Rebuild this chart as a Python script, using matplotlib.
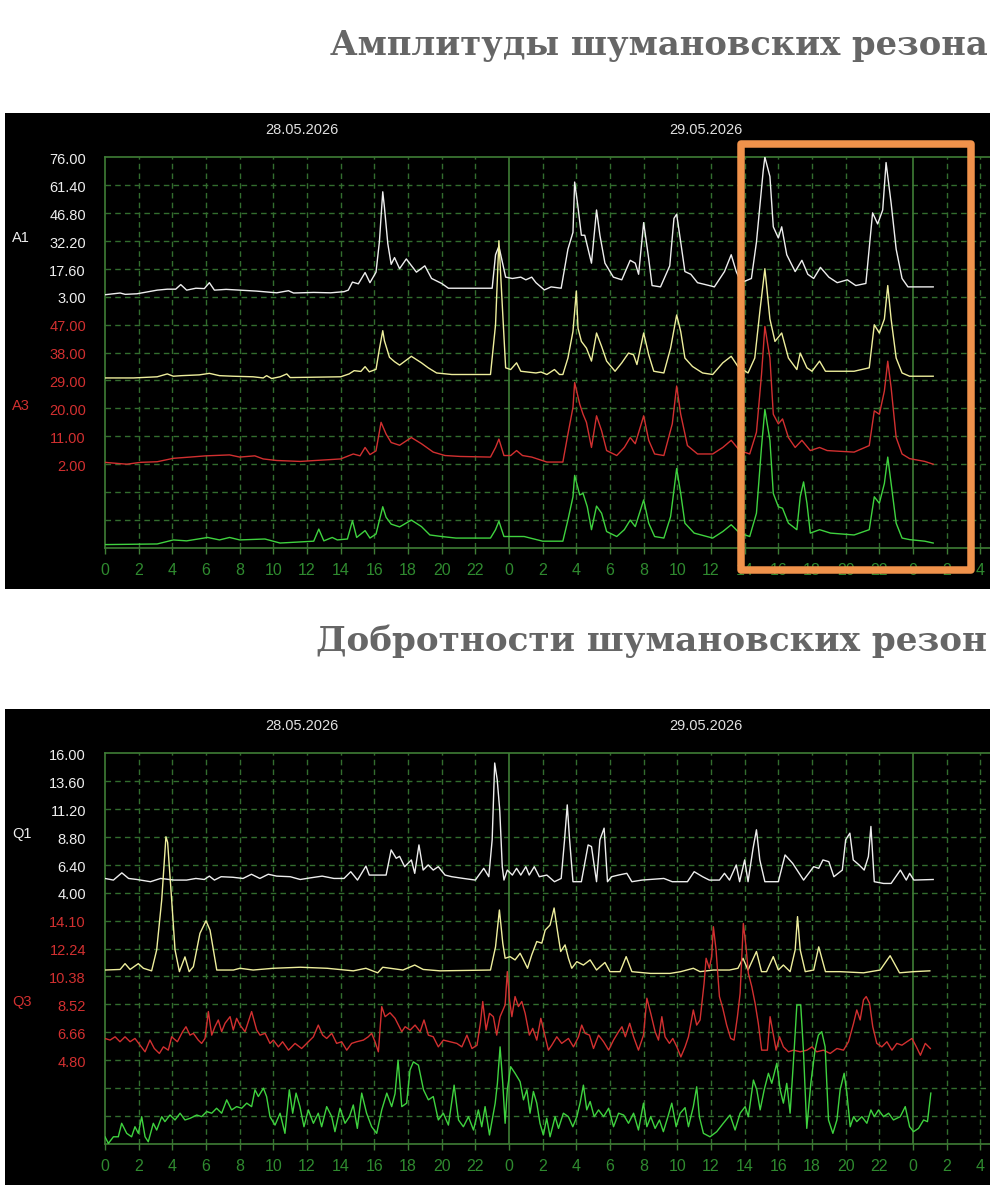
import matplotlib
matplotlib.use('Agg')
import matplotlib.pyplot as plt
from matplotlib.patches import Rectangle

# ---------------- data (hours since 00:00 28.05.2026, values) ----------------
# Amplitudes panel
A1_t = [0, 0.9, 1.2, 1.9, 3.1, 3.7, 4.2, 4.5, 4.85, 5.4, 5.9, 6.2, 6.5, 7.2, 8.0, 9.0, 10.2, 10.9, 11.2, 12.4,
        13.4, 14.2, 14.45, 14.7, 15.05, 15.45, 15.74, 16.1, 16.3, 16.5, 16.6, 16.8, 17.0, 17.2, 17.5, 17.9, 18.5,
        19.0, 19.4, 20.0, 20.4, 23.0, 23.2, 23.4, 23.8, 24.2, 24.7, 25.0, 25.35, 25.6, 26.1, 26.5, 27.1, 27.5,
        27.8, 27.9, 28.1, 28.3, 28.5, 28.9, 29.2, 29.4, 29.7, 30.2, 30.7, 31.2, 31.5, 31.7, 32.0, 32.3, 32.5,
        33.0, 33.55, 33.8, 33.96, 34.2, 34.45, 34.8, 35.2, 35.9, 36.2, 36.8, 37.2, 37.5, 37.8, 38.4, 38.7, 39.1,
        39.2, 39.5, 39.7, 40.0, 40.2, 40.5, 41.0, 41.4, 41.75, 42.1, 42.5, 43.0, 43.5, 44.1, 44.6, 45.2, 45.6,
        45.9, 46.2, 46.4, 46.7, 47.0, 47.35, 47.7, 49.2]
A1_v = [4.0, 4.9, 4.2, 4.5, 6.4, 6.9, 6.9, 9.3, 6.4, 7.4, 7.2, 10.3, 6.4, 6.8, 6.4, 5.9, 5.0, 6.1, 4.9, 5.2,
        5.0, 5.6, 6.4, 10.6, 9.7, 15.6, 10.3, 15.8, 31.6, 57.8, 49.7, 30.7, 19.9, 23.4, 17.6, 22.7, 15.8,
        19.1, 12.5, 9.9, 7.4, 7.4, 24.9, 29.3, 13.2, 12.5, 13.2, 11.8, 13.2, 10.3, 6.5, 8.1, 7.4, 27.8,
        36.6, 62.9, 49.7, 35.1, 35.1, 20.5, 48.3, 35.1, 20.5, 13.2, 11.8, 22.0, 20.5, 14.7, 41.7, 22.7, 8.8,
        8.1, 19.1, 43.9, 46.1, 31.5, 16.1, 14.7, 10.3, 8.8, 8.1, 16.1, 24.9, 16.1, 10.3, 12.5, 31.5, 68.7,
        76.0, 65.8, 39.5, 33.7, 39.5, 24.9, 16.1, 22.0, 14.7, 12.5, 18.3, 13.2, 10.3, 11.8, 8.8, 9.9, 46.8,
        41.0, 48.3, 73.1, 51.9, 27.8, 12.5, 8.1, 8.1]

A2_t = [0, 1.7, 3.1, 3.7, 4.06, 4.55, 5.6, 6.2, 6.8, 7.6, 8.8, 9.4, 9.6, 9.9, 10.4, 10.8, 11.0, 14.0, 14.5,
        14.8, 15.2, 15.45, 15.7, 16.1, 16.3, 16.5, 16.6, 16.9, 17.2, 17.5, 18.2, 18.8, 19.2, 19.7, 20.6, 22.9,
        23.2, 23.4, 23.6, 23.8, 24.1, 24.45, 24.7, 25.6, 25.9, 26.25, 26.7, 27.0, 27.2, 27.5, 27.8, 28.0, 28.1,
        28.3, 28.6, 28.9, 29.2, 29.5, 29.8, 30.3, 30.7, 31.1, 31.4, 31.6, 32.0, 32.3, 32.6, 33.2, 33.6, 33.96,
        34.2, 34.45, 34.9, 35.5, 36.1, 36.7, 37.2, 37.6, 38.2, 38.6, 38.9, 39.2, 39.5, 39.8, 40.2, 40.6, 41.1,
        41.3, 41.7, 42.0, 42.45, 42.8, 44.5, 45.4, 45.7, 46.0, 46.3, 46.5, 46.7, 47.0, 47.35, 47.8, 49.2]
A2_v = [4.3, 4.3, 4.9, 6.4, 5.2, 5.5, 5.9, 6.7, 5.5, 5.2, 4.9, 4.3, 5.5, 4.0, 4.9, 6.4, 4.5, 4.9, 6.4,
        8.1, 7.7, 10.2, 7.5, 8.8, 19.4, 29.0, 23.7, 15.1, 12.8, 11.0, 15.6, 12.2, 9.6, 6.9, 6.1, 6.1,
        32.1, 76.0, 42.4, 9.6, 8.7, 12.2, 7.8, 6.9, 7.4, 6.1, 8.7, 6.1, 6.1, 14.7, 28.6, 49.7, 30.3,
        23.4, 19.9, 13.1, 27.8, 20.8, 13.1, 7.8, 12.2, 17.3, 16.4, 11.3, 27.8, 16.4, 7.8, 6.9, 19.9, 37.2,
        28.6, 14.7, 10.3, 6.9, 6.1, 12.2, 15.6, 10.3, 6.9, 14.7, 38.9, 61.4, 35.1, 23.4, 27.8, 14.7, 8.7,
        17.3, 9.6, 7.8, 13.1, 7.8, 7.8, 9.6, 32.1, 27.8, 35.1, 52.6, 35.1, 14.7, 6.9, 5.2, 5.2]

A3_t = [0, 1.3, 2.1, 3.1, 4.06, 5.05, 6.0, 7.4, 8.0, 8.9, 9.4, 10.2, 11.6, 14.0, 14.75, 15.15, 15.45, 15.74,
        16.1, 16.4, 16.7, 17.0, 17.5, 18.2, 18.8, 19.5, 20.2, 21.1, 22.9, 23.2, 23.4, 23.7, 24.1, 24.45, 24.8,
        25.35, 26.25, 27.2, 27.5, 27.8, 27.9, 28.2, 28.4, 28.6, 28.9, 29.2, 29.5, 29.8, 30.4, 30.85, 31.2,
        31.5, 32.0, 32.3, 32.65, 33.2, 33.7, 33.96, 34.2, 34.6, 35.2, 36.1, 36.7, 37.2, 37.7, 38.3, 38.7,
        39.0, 39.2, 39.5, 39.7, 40.0, 40.25, 40.6, 41.0, 41.4, 41.9, 42.45, 42.9, 44.5, 45.4, 45.7, 46.0,
        46.3, 46.5, 46.7, 47.0, 47.35, 47.8, 48.7, 49.2]
A3_v = [2.6, 2.0, 2.6, 2.8, 3.9, 4.3, 4.7, 5.0, 4.3, 4.7, 3.7, 3.2, 2.9, 3.7, 5.3, 4.7, 7.4, 5.1,
        6.3, 15.5, 11.7, 9.0, 8.1, 10.6, 8.6, 5.9, 4.8, 4.5, 4.3, 7.4, 10.1, 4.8, 4.8, 6.4, 4.8,
        4.3, 2.7, 2.7, 11.7, 20.3, 28.3, 21.4, 18.1, 15.5, 7.4, 17.6, 12.8, 6.4, 4.8, 7.4, 10.6,
        8.6, 17.6, 9.7, 5.3, 4.8, 15.0, 27.2, 18.1, 8.0, 5.3, 5.3, 7.4, 9.7, 6.4, 5.3, 12.3,
        30.9, 46.4, 36.2, 18.1, 15.0, 16.6, 10.6, 7.4, 9.7, 6.4, 7.4, 6.4, 5.9, 8.0, 19.2, 18.1,
        25.6, 35.2, 26.7, 10.6, 5.3, 3.8, 2.9, 2.0]

A4_t = [0, 3.1, 4.06, 4.85, 6.1, 6.8, 7.4, 8.0, 9.5, 10.4, 12.4, 12.7, 13.0, 13.5, 13.8, 14.4, 14.7, 14.95,
        15.45, 15.74, 16.1, 16.5, 16.7, 17.0, 17.5, 18.2, 18.8, 19.3, 20.0, 20.85, 22.9, 23.2, 23.4, 23.7,
        24.9, 26.0, 27.2, 27.5, 27.8, 27.9, 28.2, 28.4, 28.65, 28.9, 29.2, 29.5, 29.8, 30.4, 30.85, 31.2,
        31.5, 32.0, 32.3, 32.65, 33.2, 33.6, 33.96, 34.2, 34.45, 35.0, 36.1, 36.7, 37.2, 37.7, 38.3, 38.7,
        39.0, 39.2, 39.5, 39.7, 40.0, 40.25, 40.6, 41.1, 41.3, 41.5, 41.7, 41.9, 42.45, 43.1, 44.5, 45.4,
        45.7, 46.0, 46.3, 46.5, 46.7, 47.0, 47.35, 47.8, 48.7, 49.2]
A4_v = [3.1, 3.3, 4.6, 4.3, 5.4, 4.6, 5.4, 4.6, 4.9, 3.6, 4.2, 8.1, 4.3, 5.4, 4.6, 4.9, 10.8, 5.4,
        7.6, 5.2, 6.5, 15.3, 11.9, 9.7, 8.8, 11.0, 8.9, 6.2, 5.7, 5.2, 5.2, 7.9, 10.6, 5.7,
        5.7, 4.2, 4.2, 11.0, 18.5, 25.4, 19.1, 19.6, 15.3, 7.9, 15.5, 13.2, 7.3, 5.7, 7.9, 11.0,
        8.9, 17.5, 10.0, 5.7, 5.2, 12.1, 27.6, 19.6, 10.0, 6.8, 5.2, 7.3, 9.5, 6.8, 5.7, 13.2,
        34.5, 46.7, 36.7, 19.6, 15.3, 14.8, 10.0, 7.9, 18.5, 23.3, 16.4, 6.8, 7.9, 6.8, 6.2, 7.9,
        18.5, 16.4, 22.8, 31.3, 22.8, 10.0, 5.2, 4.7, 4.2, 3.6]

# Q-factor panel
Q1_t = [0, 0.5, 1.0, 1.4, 1.9, 2.7, 3.3, 4.1, 4.85, 5.4, 5.9, 6.2, 6.5, 6.9, 7.6, 8.2, 8.7, 9.2, 9.7, 10.2,
        11.0, 11.6, 12.2, 12.9, 13.6, 14.2, 14.6, 15.0, 15.5, 15.7, 16.7, 17.0, 17.3, 17.5, 17.8, 18.2, 18.4,
        18.65, 18.9, 19.2, 19.5, 19.8, 20.2, 20.6, 21.3, 22.0, 22.5, 22.8, 23.0, 23.15, 23.3, 23.45, 23.6,
        23.7, 23.9, 24.2, 24.45, 24.7, 25.0, 25.2, 25.5, 25.8, 26.25, 26.7, 27.1, 27.3, 27.46, 27.6, 27.8,
        28.3, 28.5, 28.7, 28.9, 29.2, 29.4, 29.65, 29.85, 30.1, 30.5, 31.0, 31.3, 31.9, 33.2, 33.7, 34.6,
        35.0, 35.5, 35.9, 36.5, 36.8, 37.1, 37.5, 37.7, 38.0, 38.2, 38.5, 38.7, 38.9, 39.2, 40.0, 40.4,
        40.85, 41.5, 42.1, 42.4, 42.65, 43.0, 43.3, 43.8, 44.0, 44.25, 44.45, 44.8, 45.1, 45.35, 45.5,
        45.7, 46.25, 46.7, 47.25, 47.6, 47.8, 48.05, 49.2]
Q1_v = [5.22, 5.08, 5.70, 5.22, 5.13, 4.94, 5.22, 5.08, 5.08, 5.22, 5.13, 5.42, 5.08, 5.37, 5.32, 5.22, 5.58,
        5.22, 5.58, 5.42, 5.37, 5.13, 5.27, 5.42, 5.22, 5.22, 5.80, 5.08, 6.28, 5.51, 5.51, 7.67, 6.95, 7.12,
        6.23, 6.81, 5.66, 8.10, 5.94, 6.38, 5.94, 6.23, 5.51, 5.37, 5.22, 5.08, 6.09, 5.37, 8.54, 15.14,
        13.70, 11.10, 6.23, 5.08, 5.94, 5.51, 6.09, 5.51, 6.23, 5.51, 6.23, 5.37, 5.51, 4.94, 5.22, 8.54,
        11.54, 8.54, 4.94, 4.94, 6.52, 8.10, 7.96, 4.94, 8.54, 9.54, 4.94, 5.37, 5.51, 5.66, 4.94, 5.08,
        5.22, 4.94, 4.94, 5.80, 5.37, 5.08, 5.08, 5.66, 5.08, 6.38, 4.94, 6.81, 4.94, 7.82, 9.40, 6.81,
        4.94, 4.94, 7.24, 6.52, 5.08, 6.23, 6.09, 6.81, 6.66, 5.37, 5.94, 8.54, 9.11, 6.81, 6.38, 5.94,
        7.10, 9.69, 4.94, 4.79, 4.79, 5.94, 5.08, 5.66, 5.08, 5.13]

Q2_t = [0, 0.9, 1.19, 1.49, 1.98, 2.28, 2.77, 3.07, 3.37, 3.62, 3.72, 3.96, 4.16, 4.42, 4.75, 5.0, 5.25, 5.64,
        6.0, 6.24, 6.64, 7.63, 8.02, 8.8, 10.0, 11.6, 13.2, 14.75, 15.5, 16.2, 16.5, 17.7, 18.4, 18.9, 19.9,
        22.9, 23.2, 23.43, 23.63, 23.77, 24.06, 24.36, 24.66, 24.86, 25.1, 25.35, 25.65, 25.95, 26.15, 26.44,
        26.68, 26.84, 27.07, 27.33, 27.53, 27.73, 28.03, 28.42, 28.82, 29.2, 29.7, 30.0, 30.6, 30.96, 31.3,
        32.4, 33.57, 34.2, 34.95, 35.35, 36.14, 37.1, 37.6, 37.9, 38.2, 38.7, 39.0, 39.3, 39.7, 40.0, 40.3,
        40.7, 41.0, 41.14, 41.3, 41.6, 42.1, 42.4, 42.8, 43.67, 45.06, 46.05, 46.64, 47.2, 48.03, 49.0]
Q2_v = [4.55, 4.60, 5.10, 4.60, 5.10, 4.70, 4.48, 6.28, 10.58, 16.0, 15.52, 10.58, 6.28, 4.41, 5.68, 4.41,
        4.84, 7.70, 8.78, 7.98, 4.55, 4.55, 4.70, 4.55, 4.70, 4.79, 4.70, 4.48, 4.70, 4.31, 4.79, 4.55, 4.98,
        4.60, 4.48, 4.55, 6.54, 9.71, 6.86, 5.56, 5.70, 5.42, 5.99, 5.42, 4.70, 5.85, 7.00, 6.86, 7.98, 8.42,
        9.88, 8.27, 6.14, 6.71, 5.56, 4.70, 5.27, 4.98, 5.42, 4.55, 5.20, 4.41, 4.41, 5.70, 4.41, 4.26, 4.26,
        4.41, 4.70, 4.41, 4.55, 4.55, 4.70, 5.56, 4.55, 6.14, 4.41, 4.41, 5.70, 4.55, 4.98, 4.41, 6.28, 9.14,
        6.28, 4.41, 4.55, 6.54, 4.41, 4.41, 4.31, 4.55, 5.78, 4.31, 4.41, 4.48]

Q3_t = [0, 0.3, 0.6, 0.89, 1.19, 1.49, 1.78, 2.08, 2.38, 2.67, 2.93, 3.23, 3.47, 3.76, 3.96, 4.3, 4.61, 4.81,
        5.05, 5.25, 5.54, 5.74, 5.94, 6.14, 6.34, 6.53, 6.73, 6.93, 7.13, 7.43, 7.62, 7.82, 8.02, 8.32, 8.71,
        9.01, 9.21, 9.51, 9.8, 10.0, 10.3, 10.55, 10.9, 11.29, 11.68, 12.08, 12.38, 12.67, 12.93, 13.17,
        13.47, 13.76, 14.06, 14.36, 14.65, 14.95, 15.35, 15.64, 15.84, 16.04, 16.24, 16.44, 16.64, 16.93,
        17.23, 17.63, 17.83, 18.13, 18.42, 18.72, 18.95, 19.21, 19.5, 19.8, 20.1, 20.5, 20.9, 21.2, 21.5,
        21.8, 22.1, 22.3, 22.44, 22.64, 22.84, 23.07, 23.27, 23.47, 23.77, 23.9, 24.03, 24.17, 24.36, 24.56,
        24.76, 24.96, 25.21, 25.41, 25.65, 25.89, 26.08, 26.34, 26.54, 26.84, 27.13, 27.53, 27.83, 28.13,
        28.32, 28.52, 28.78, 29.02, 29.32, 29.62, 29.92, 30.21, 30.51, 30.71, 30.91, 31.17, 31.4, 31.69,
        31.99, 32.19, 32.42, 32.68, 32.88, 33.08, 33.27, 33.53, 33.73, 33.97, 34.21, 34.46, 34.66, 34.95,
        35.15, 35.35, 35.59, 35.71, 35.9, 36.04, 36.14, 36.3, 36.5, 36.7, 36.93, 37.17, 37.37, 37.57, 37.73,
        37.92, 38.08, 38.22, 38.42, 38.62, 38.81, 39.01, 39.35, 39.51, 39.67, 39.87, 40.07, 40.3, 40.6, 40.9,
        41.3, 41.7, 42.0, 42.28, 42.68, 43.08, 43.48, 43.87, 44.17, 44.47, 44.66, 44.86, 45.06, 45.22, 45.42,
        45.61, 45.85, 46.15, 46.45, 46.75, 47.04, 47.34, 47.64, 47.94, 48.2, 48.44, 48.73, 49.03]
Q3_v = [6.25, 6.14, 6.36, 6.03, 6.36, 6.03, 6.25, 5.80, 5.36, 6.14, 5.58, 5.25, 5.69, 5.47, 6.36, 6.03, 6.70, 7.03,
        6.47, 6.59, 6.14, 5.92, 6.25, 8.04, 6.47, 7.03, 7.48, 6.70, 7.26, 7.70, 6.81, 7.59, 7.14, 6.70, 8.04,
        6.81, 6.47, 6.59, 5.92, 6.14, 5.69, 6.03, 5.47, 5.92, 5.58, 6.03, 6.36, 7.14, 6.47, 6.25,
        6.59, 5.92, 6.03, 5.47, 5.92, 6.03, 6.14, 6.36, 6.59, 6.03, 5.36, 8.37, 7.70, 7.96,
        7.59, 6.70, 7.03, 6.81, 7.14, 6.70, 7.48, 6.47, 6.36, 5.69, 6.14, 6.03, 5.92, 5.69, 6.47,
        5.58, 5.80, 7.26, 8.71, 6.81, 7.92, 7.70, 6.47, 7.70, 8.48, 10.70, 8.82, 7.70, 9.04, 8.37,
        8.71, 7.92, 6.47, 6.92, 6.14, 7.59, 6.70, 5.47, 5.80, 6.36, 5.92, 6.25, 5.69, 6.36,
        7.14, 6.59, 6.47, 5.58, 6.47, 6.03, 5.47, 6.14, 6.70, 7.03, 6.36, 7.26, 6.36, 5.47,
        6.47, 8.93, 7.92, 6.70, 6.14, 7.70, 6.36, 5.92, 6.25, 5.69, 5.02, 5.69, 6.36, 8.15,
        7.14, 7.48, 9.93, 11.59, 10.92, 11.70, 13.69, 12.15, 9.04, 8.26, 7.14, 6.25, 6.14, 7.70, 9.26,
        13.91, 12.35, 10.58, 9.71, 8.59, 7.26, 5.47, 5.47, 7.70, 6.70, 5.47, 6.36, 5.69, 5.36, 5.47,
        5.36, 5.47, 5.69, 5.36, 5.47, 5.25, 5.58, 5.47, 6.03, 7.26, 8.15, 7.48, 8.82, 9.04, 8.59,
        7.03, 5.92, 5.69, 6.03, 5.47, 5.92, 5.80, 6.03, 6.25, 5.69, 5.13, 5.92, 5.58]

Q4_t = [0, 0.2, 0.5, 0.79, 0.99, 1.29, 1.58, 1.78, 1.98, 2.18, 2.38, 2.57, 2.87, 3.07, 3.37, 3.56, 3.86, 4.16,
        4.46, 4.75, 5.05, 5.45, 5.74, 6.04, 6.34, 6.63, 6.93, 7.23, 7.52, 7.82, 8.12, 8.42, 8.71, 8.91, 9.11,
        9.41, 9.6, 9.8, 10.1, 10.4, 10.69, 10.95, 11.15, 11.35, 11.58, 11.82, 12.08, 12.38, 12.67, 12.87,
        13.17, 13.47, 13.66, 13.96, 14.26, 14.52, 14.75, 14.99, 15.25, 15.54, 15.84, 16.14, 16.44, 16.74,
        17.03, 17.23, 17.41, 17.63, 17.92, 18.12, 18.32, 18.62, 18.92, 19.21, 19.5, 19.8, 20.1, 20.4, 20.74,
        21.0, 21.29, 21.59, 21.89, 22.18, 22.38, 22.58, 22.84, 23.18, 23.31, 23.47, 23.63, 23.77, 23.9, 24.1,
        24.36, 24.66, 24.86, 25.06, 25.25, 25.45, 25.65, 25.84, 26.04, 26.24, 26.44, 26.74, 26.94, 27.23,
        27.53, 27.79, 28.03, 28.22, 28.42, 28.62, 28.82, 29.06, 29.32, 29.62, 29.92, 30.21, 30.51, 30.81,
        31.1, 31.4, 31.69, 31.99, 32.19, 32.42, 32.68, 32.94, 33.17, 33.47, 33.67, 33.93, 34.17, 34.46,
        34.66, 34.95, 35.15, 35.31, 35.55, 35.94, 36.34, 36.73, 37.13, 37.43, 37.73, 38.03, 38.22, 38.52,
        38.72, 38.92, 39.16, 39.41, 39.61, 39.91, 40.11, 40.3, 40.5, 40.7, 40.94, 41.1, 41.33, 41.49, 41.69,
        41.93, 42.18, 42.38, 42.58, 42.78, 42.98, 43.24, 43.48, 43.67, 43.91, 44.07, 44.27, 44.47, 44.66,
        44.96, 45.26, 45.5, 45.7, 45.95, 46.25, 46.55, 46.84, 47.24, 47.54, 47.8, 48.03, 48.33, 48.63,
        48.86, 49.06]
Q4_v = [5.28, 4.84, 5.28, 5.28, 6.18, 5.51, 5.28, 5.95, 5.51, 6.62, 5.28, 4.95, 6.18, 5.73, 6.62, 6.29, 6.73, 6.40,
        6.85, 6.40, 6.51, 6.73, 6.62, 6.96, 6.85, 7.18, 6.85, 7.74, 7.07, 7.29, 7.18, 7.52, 7.29, 8.41, 7.96,
        8.52, 7.96, 6.62, 6.06, 6.85, 5.51, 8.41, 6.85, 8.19, 7.29, 5.95, 7.07, 6.18, 6.85, 5.95,
        7.29, 6.62, 5.62, 7.18, 6.18, 6.62, 7.40, 5.84, 8.19, 6.85, 5.95, 5.51, 7.07, 8.19,
        7.29, 8.15, 10.38, 7.29, 7.52, 9.73, 10.27, 10.05, 8.41, 7.74, 7.96, 6.40, 6.85, 6.06, 8.72,
        6.40, 5.95, 6.62, 5.73, 7.07, 5.95, 7.29, 5.40, 7.52, 8.84, 11.27, 8.84, 6.18, 8.41, 9.95,
        9.51, 8.95, 7.74, 8.41, 6.85, 8.30, 7.52, 6.18, 5.40, 6.51, 5.28, 6.62, 5.84, 6.85,
        6.62, 5.95, 6.62, 7.52, 8.72, 7.07, 7.63, 6.62, 7.07, 6.62, 7.18, 5.95, 6.85, 6.73,
        6.18, 6.85, 5.73, 7.52, 5.95, 6.62, 5.84, 6.40, 5.62, 6.73, 7.52, 5.95, 6.85, 7.22,
        5.95, 7.29, 8.61, 6.62, 5.51, 5.28, 5.62, 6.18, 6.73, 5.73, 6.85, 7.29, 6.62, 9.06,
        8.41, 7.07, 8.41, 9.51, 8.84, 10.18, 8.41, 7.52, 8.84, 6.85, 11.05, 14.06, 14.06, 11.05, 5.84,
        8.84, 11.05, 12.05, 12.28, 11.27, 6.40, 5.51, 6.40, 8.41, 9.51, 8.19, 5.95, 6.62, 6.29,
        6.62, 6.18, 7.07, 6.62, 7.07, 6.62, 6.85, 6.40, 6.62, 7.29, 5.95, 5.62, 5.84, 6.40,
        6.29, 8.19]

# axis labels as shown on the chart
A1_ticks = ['76.00', '61.40', '46.80', '32.20', '17.60', '3.00']
A3_ticks = ['47.00', '38.00', '29.00', '20.00', '11.00', '2.00']
Q1_ticks = ['16.00', '13.60', '11.20', '8.80', '6.40', '4.00']
Q3_ticks = ['14.10', '12.24', '10.38', '8.52', '6.66', '4.80']
dates = ['28.05.2026', '29.05.2026']
# headings, as far as they are visible in the (cropped) picture
title_top = 'Амплитуды шумановских резона'
title_bottom = 'Добротности шумановских резон'

# scale of each trace: (value at base row, value per grid row, base row)
SCALES = {
    'A1': (3.00, 14.6, 9), 'A2': (3.00, 14.6, 6), 'A3': (2.00, 9.0, 3), 'A4': (2.00, 9.0, 0),
    'Q1': (4.00, 2.4, 9), 'Q2': (4.00, 2.4, 6), 'Q3': (4.80, 1.86, 3), 'Q4': (4.80, 1.86, 0),
}

# ---------------- styling ----------------
W, H = 990, 1200
fig = plt.figure(figsize=(W / 100, H / 100), dpi=100)
fig.patch.set_facecolor('white')

WHITE = '#eeeeee'
YELLOW = '#eeee9c'
RED = '#d23030'
GREEN = '#3fd23f'
GRID = '#336d2e'
SOLID = '#3f7d36'
TICKC = '#2f8a2f'
LABELF = ['Liberation Sans', 'DejaVu Sans']

HOUR_PX = (509 - 105) / 24.0
XMAX = 54


def fig_rect(x0, y0, x1, y1):
    return [x0 / W, 1 - y1 / H, (x1 - x0) / W, (y1 - y0) / H]


def scaled(name, vals):
    v0, step, base = SCALES[name]
    return [base + (v - v0) / step for v in vals]


titles = []


def make_panel(top_px, series, ticks_upper, ticks_lower, names, title, title_x):
    bg = fig_rect(5, top_px - 44, 1000, top_px + 432)
    fig.add_artist(Rectangle((bg[0], bg[1]), bg[2], bg[3], transform=fig.transFigure,
                             facecolor='black', edgecolor='none', zorder=-10))
    t = fig.text(title_x / W, 1 - (top_px - 112) / H, title, ha='left', va='center',
                 fontsize=25, fontweight='bold', color='#666666', family=['DejaVu Serif'])
    titles.append(t)

    ax = fig.add_axes(fig_rect(105, top_px, 105 + XMAX * HOUR_PX, top_px + 391))
    ax.set_facecolor('black')
    ax.set_xlim(0, XMAX)
    ax.set_ylim(0, 14)
    ax.spines['right'].set_visible(False)
    for s in ['left', 'top', 'bottom']:
        ax.spines[s].set_color(SOLID)
        ax.spines[s].set_linewidth(1.2)

    for k in range(1, 14):
        ax.axhline(k, color=GRID, lw=1.0, ls=(0, (4, 3)), zorder=1)
    for h in range(2, XMAX + 1, 2):
        if h % 24 == 0:
            ax.axvline(h, color=SOLID, lw=1.2, zorder=1)
        else:
            ax.axvline(h, color=GRID, lw=1.0, ls=(0, (4, 3)), zorder=1)

    xt = list(range(0, 53, 2))
    ax.set_xticks(xt)
    ax.set_xticklabels([str(h % 24) for h in xt], color=TICKC, fontsize=11.5, family=LABELF)
    ax.tick_params(axis='x', length=4, width=1, color=SOLID, pad=6.5)
    ax.set_yticks([])

    ytr = ax.get_yaxis_transform()
    for i, lab in enumerate(ticks_upper):
        ax.text(-0.021, 14 - i - 0.1, lab, transform=ytr, ha='right', va='center',
                color=WHITE, fontsize=10.5, family=LABELF)
    for i, lab in enumerate(ticks_lower):
        ax.text(-0.021, 8 - i - 0.1, lab, transform=ytr, ha='right', va='center',
                color=RED, fontsize=10.5, family=LABELF)
    ax.text(-0.102, 11.1, names[0], transform=ytr, ha='left', va='center',
            color=WHITE, fontsize=10.5, family=LABELF)
    ax.text(-0.102, 5.1, names[1], transform=ytr, ha='left', va='center',
            color=RED, fontsize=10.5, family=LABELF)

    for d, xc in zip(dates, [11.7, 35.7]):
        ax.text(xc, 14.95, d, ha='center', va='center', color='#e0e0e0',
                fontsize=10.5, family=LABELF, clip_on=False)

    for name, tt, v, col in series:
        ax.plot(tt, scaled(name, v), color=col, lw=1.0, zorder=3)
    return ax


ax1 = make_panel(157,
                 [('A1', A1_t, A1_v, WHITE), ('A2', A2_t, A2_v, YELLOW),
                  ('A3', A3_t, A3_v, RED), ('A4', A4_t, A4_v, GREEN)],
                 A1_ticks, A3_ticks, ['A1', 'A3'], title_top, 330)
ax2 = make_panel(753,
                 [('Q1', Q1_t, Q1_v, WHITE), ('Q2', Q2_t, Q2_v, YELLOW),
                  ('Q3', Q3_t, Q3_v, RED), ('Q4', Q4_t, Q4_v, GREEN)],
                 Q1_ticks, Q3_ticks, ['Q1', 'Q3'], title_bottom, 316)

# keep the visible headings inside the picture
fig.canvas.draw()
renderer = fig.canvas.get_renderer()
for t in titles:
    bb = t.get_window_extent(renderer)
    if bb.x1 > W - 3:
        t.set_fontsize(t.get_fontsize() * (W - 3 - bb.x0) / bb.width)

# orange highlight frame
r = fig_rect(741, 144, 971, 570)
fig.add_artist(Rectangle((r[0], r[1]), r[2], r[3], transform=fig.transFigure,
                         fill=False, edgecolor='#f0924b', linewidth=5.4,
                         joinstyle='round', zorder=20))

fig.savefig('out.png', dpi=100, facecolor='white')
